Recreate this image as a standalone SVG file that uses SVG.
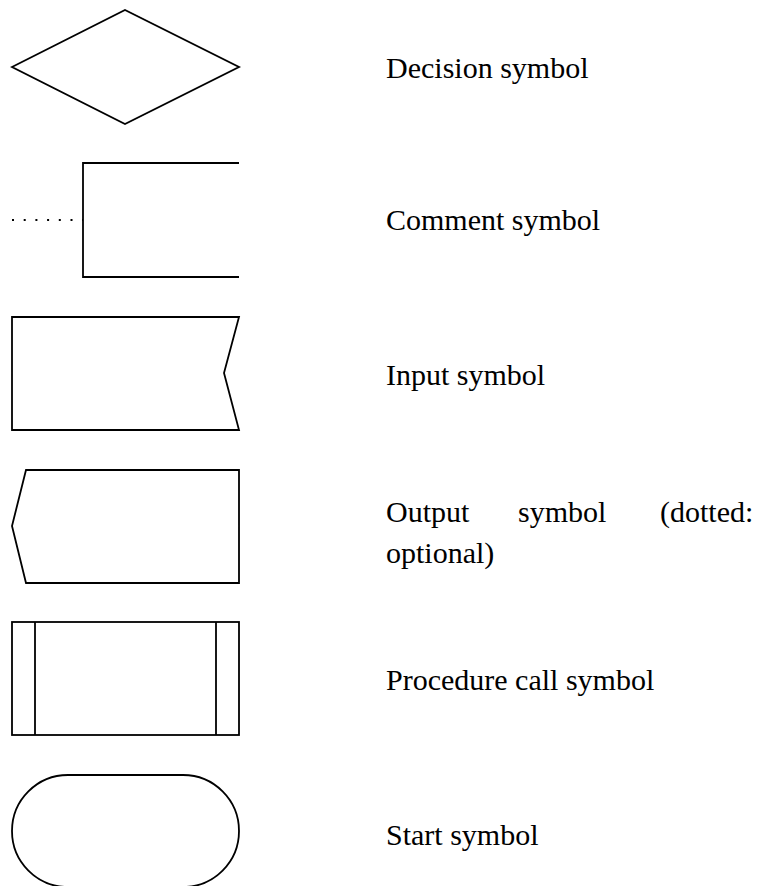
<svg xmlns="http://www.w3.org/2000/svg" width="759" height="886" viewBox="0 0 759 886">
<style>
.s{fill:none;stroke:#000;stroke-width:1.8;stroke-linejoin:miter}
.t{font-family:"Liberation Serif","Times New Roman",serif;font-size:30px;fill:#000}
</style>
<rect width="759" height="886" fill="#fff"/>
<g id="decision">
<polygon class="s" points="12,67 125,10 239,67 125,124"/>
<text class="t" x="386" y="78">Decision symbol</text>
</g>
<g id="comment">
<polyline class="s" points="239,163 83,163 83,277 239,277"/>
<text class="t" x="386" y="230">Comment symbol</text>
</g>
<g id="input">
<polygon class="s" points="12,317 239,317 224,373 239,430 12,430"/>
<text class="t" x="386" y="385">Input symbol</text>
</g>
<g id="output">
<polygon class="s" points="26,470 239,470 239,583 26,583 12,526"/>
<text class="t" y="522"><tspan x="386">Output</tspan><tspan x="518">symbol</tspan><tspan x="660">(dotted:</tspan></text>
<text class="t" x="386" y="563">optional)</text>
</g>
<g id="procedure">
<rect class="s" x="12" y="622" width="227" height="113"/>
<line class="s" x1="35" y1="622" x2="35" y2="735"/>
<line class="s" x1="216" y1="622" x2="216" y2="735"/>
<text class="t" x="386" y="690">Procedure call symbol</text>
</g>
<g id="start">
<rect class="s" x="12" y="775" width="227" height="112" rx="56" ry="56"/>
<text class="t" x="386" y="845">Start symbol</text>
</g>
<g id="connectors">
<line x1="12" y1="220" x2="83" y2="220" stroke="#000" stroke-width="2" stroke-dasharray="2 9.7"/>
</g>
</svg>
